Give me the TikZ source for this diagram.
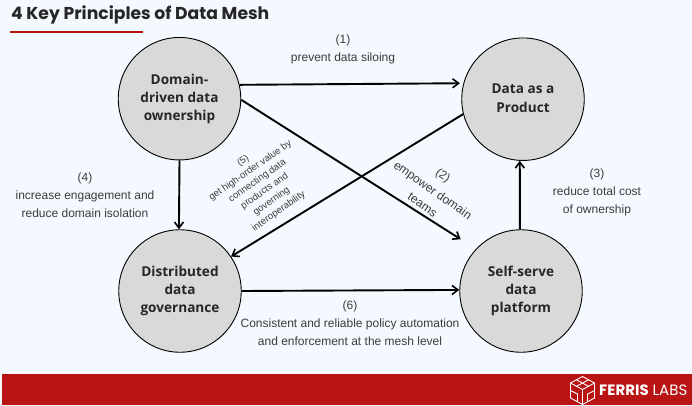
\documentclass[tikz,border=0pt]{standalone}
\usepackage{fontspec}
\setmainfont{Liberation Sans}
\newfontfamily\headfont{Poppins}
\newfontfamily\circfont{Open Sans}
\usetikzlibrary{arrows.meta}
\definecolor{bgblue}{HTML}{F4F8FF}
\definecolor{brandred}{HTML}{B81414}
\definecolor{circfill}{HTML}{D9D9D9}
\definecolor{inktext}{HTML}{3C3C3C}
\newcommand{\lifted}[2]{\raisebox{#1}{\begin{tabular}{@{}c@{}}#2\end{tabular}}}
\tikzset{
  x=1pt,y=-1pt,
  principle/.style={circle,draw=black,line width=0.9pt,fill=circfill,minimum size=122.5pt,inner sep=0pt,align=center,font=\circfont\fontsize{13.6}{18.3}\selectfont\bfseries,text=black!85},
  flow/.style={line width=1.9pt,draw=black,-{Straight Barb[length=6pt,width=9pt,line width=1.6pt]}},
  note/.style={align=center,font=\fontsize{12}{18}\selectfont,text=inktext,inner sep=0pt},
  smallnote/.style={align=center,font=\fontsize{9.6}{12.4}\selectfont,text=inktext,inner sep=0pt},
  logoline/.style={draw=white,line width=0.9pt,line join=round}
}
\begin{document}
\begin{tikzpicture}
\useasboundingbox (0,0) rectangle (692,406);
\fill[bgblue] (0,0) rectangle (692,406);
\fill[brandred] (2,374) rectangle (692,405);
\node[anchor=west,inner sep=0pt,font=\headfont\fontsize{17.2}{20}\selectfont\bfseries,text=black!85] (title) at (11,15) {4 Key Principles of Data Mesh};
\coordinate (ruleA) at (10,32);
\coordinate (ruleB) at (143,32);
\draw[brandred,line width=2.2pt] (ruleA) -- (ruleB);

\node[principle] (dom) at (179.5,98.7) {\lifted{1.5pt}{Domain-\\driven data\\ownership}};
\node[principle] (prod) at (523,99.2) {\lifted{4pt}{Data as a\\Product}};
\node[principle] (gov) at (180,291) {Distributed\\data\\governance};
\node[principle] (plat) at (521,291) {Self-serve\\data\\platform};

\draw[flow,shorten >=3.5pt] (dom.13.9) -- (prod.165.9);
\draw[flow] (plat.91.4) -- (prod.-93.3);
\draw[flow] (dom.-90.7) -- (gov.91.2);
\draw[flow] (gov.0.9) -- (plat.179);
\draw[flow,shorten >=18pt] (dom.-1.2) -- (plat.137.1);
\draw[flow] (prod.194.8) -- (gov.34.8);

\node[note] (n1) at (343,49) {(1)\\prevent data siloing};
\node[note] (n3) at (597,192) {(3)\\reduce total cost\\of ownership};
\node[note] (n4) at (85,195) {(4)\\increase engagement and\\reduce domain isolation};
\node[note] (n6) at (350,323) {(6)\\Consistent and reliable policy automation\\and enforcement at the mesh level};
\node[note,rotate=-35] (n2) at (433,190) {(2)\\empower domain\\teams};
\node[smallnote,rotate=35] (n5) at (261,186) {(5)\\get high-order value by\\connecting data\\products and\\governing\\interoperability};

% logo
\begin{scope}[shift={(582.5,390.5)}]
\draw[logoline] (0,-14) -- (12,-7.5) -- (12,7.5) -- (0,14) -- (-12,7.5) -- (-12,-7.5) -- cycle;
\draw[logoline] (-12,-7.5) -- (0,-1) -- (12,-7.5) (0,-1) -- (0,14);
\draw[logoline] (-6,-10.7) -- (6,-4.2) (6,-10.7) -- (-6,-4.2);
\draw[logoline] (-12,0) -- (-5,3.5) -- (-5,10.5) (12,0) -- (5,3.5) -- (5,10.5);
\end{scope}
\node[anchor=west,inner sep=0pt,text=white,font=\headfont\fontsize{15}{17}\selectfont] (logo) at (599,390) {\textbf{FERRIS} LABS};
\end{tikzpicture}
\end{document}
